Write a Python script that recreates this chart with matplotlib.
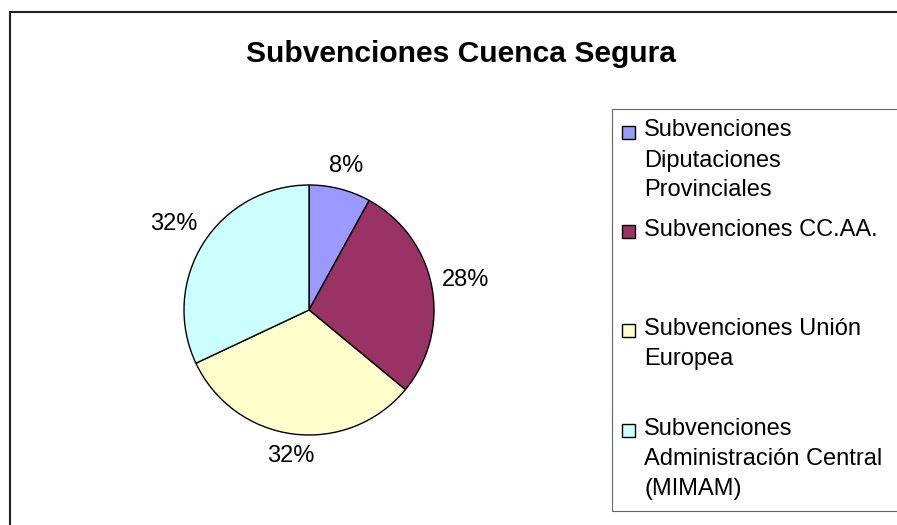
import matplotlib
matplotlib.use("Agg")
import numpy as np
import matplotlib.pyplot as plt
from matplotlib.patches import Rectangle

plt.rcParams['font.family'] = ['Liberation Sans', 'DejaVu Sans']

# Data
title = "Subvenciones Cuenca Segura"
categories = [
    "Subvenciones\nDiputaciones\nProvinciales",
    "Subvenciones CC.AA.",
    "Subvenciones Unión\nEuropea",
    "Subvenciones\nAdministración Central\n(MIMAM)",
]
shares = [8, 28, 32, 32]
colors = ['#9999FF', '#993366', '#FFFFCC', '#CCFFFF']

W, H = 897, 525
fig = plt.figure(figsize=(W / 100, H / 100), dpi=100)


def fx(px):
    return px / W


def fy(py):
    return 1 - py / H


# outer chart frame (cut off at right and bottom)
fig.patches.append(Rectangle((fx(10), -0.1), 2, fy(12) + 0.1, transform=fig.transFigure,
                             fill=False, edgecolor='#222222', linewidth=1.5))

fig.text(fx(461), fy(54), title, ha='center', va='center',
         fontsize=21.6, fontweight='bold')

# pie, centre (309, 310) px, radius 125 px
r = 125
ax = fig.add_axes([fx(309 - r), fy(310 + r), r * 2 / W, r * 2 / H])
wedges, _, pcts = ax.pie(shares, colors=colors, startangle=90, counterclock=False,
                         autopct='%1.0f%%', pctdistance=1.2,
                         wedgeprops=dict(edgecolor='black', linewidth=1.0),
                         textprops=dict(fontsize=17))
ax.set_xlim(-1, 1)
ax.set_ylim(-1, 1)
ax.set_aspect('equal')
ax.axis('off')

# push each percent label out so its box keeps a constant gap from the rim
renderer = fig.canvas.get_renderer()
gap = 0.07
for w, t in zip(wedges, pcts):
    ang = np.deg2rad((w.theta1 + w.theta2) / 2)
    ux, uy = np.cos(ang), np.sin(ang)
    bb = t.get_window_extent(renderer)
    hw = bb.width / 2 / r
    hh = bb.height / 2 / r
    d = 1 + gap + abs(ux) * hw + abs(uy) * hh
    t.set_position((d * ux, d * uy))

# legend box (cut off at right)
fig.patches.append(Rectangle((fx(612), fy(511)), 1, fy(109) - fy(511),
                             transform=fig.transFigure, fill=False,
                             edgecolor='#666666', linewidth=0.8))

first_baseline = 136.5
step = 99.4
line_gap = 30
for i, (lab, col) in enumerate(zip(categories, colors)):
    yb = first_baseline + i * step
    fig.patches.append(Rectangle((fx(622), fy(yb + 2)), 13 / W, 13 / H,
                                 transform=fig.transFigure, facecolor=col,
                                 edgecolor='black', linewidth=1.0))
    for j, line in enumerate(lab.split("\n")):
        fig.text(fx(644), fy(yb + j * line_gap), line, ha='left',
                 va='baseline', fontsize=17)

fig.savefig('out.png', dpi=100)
